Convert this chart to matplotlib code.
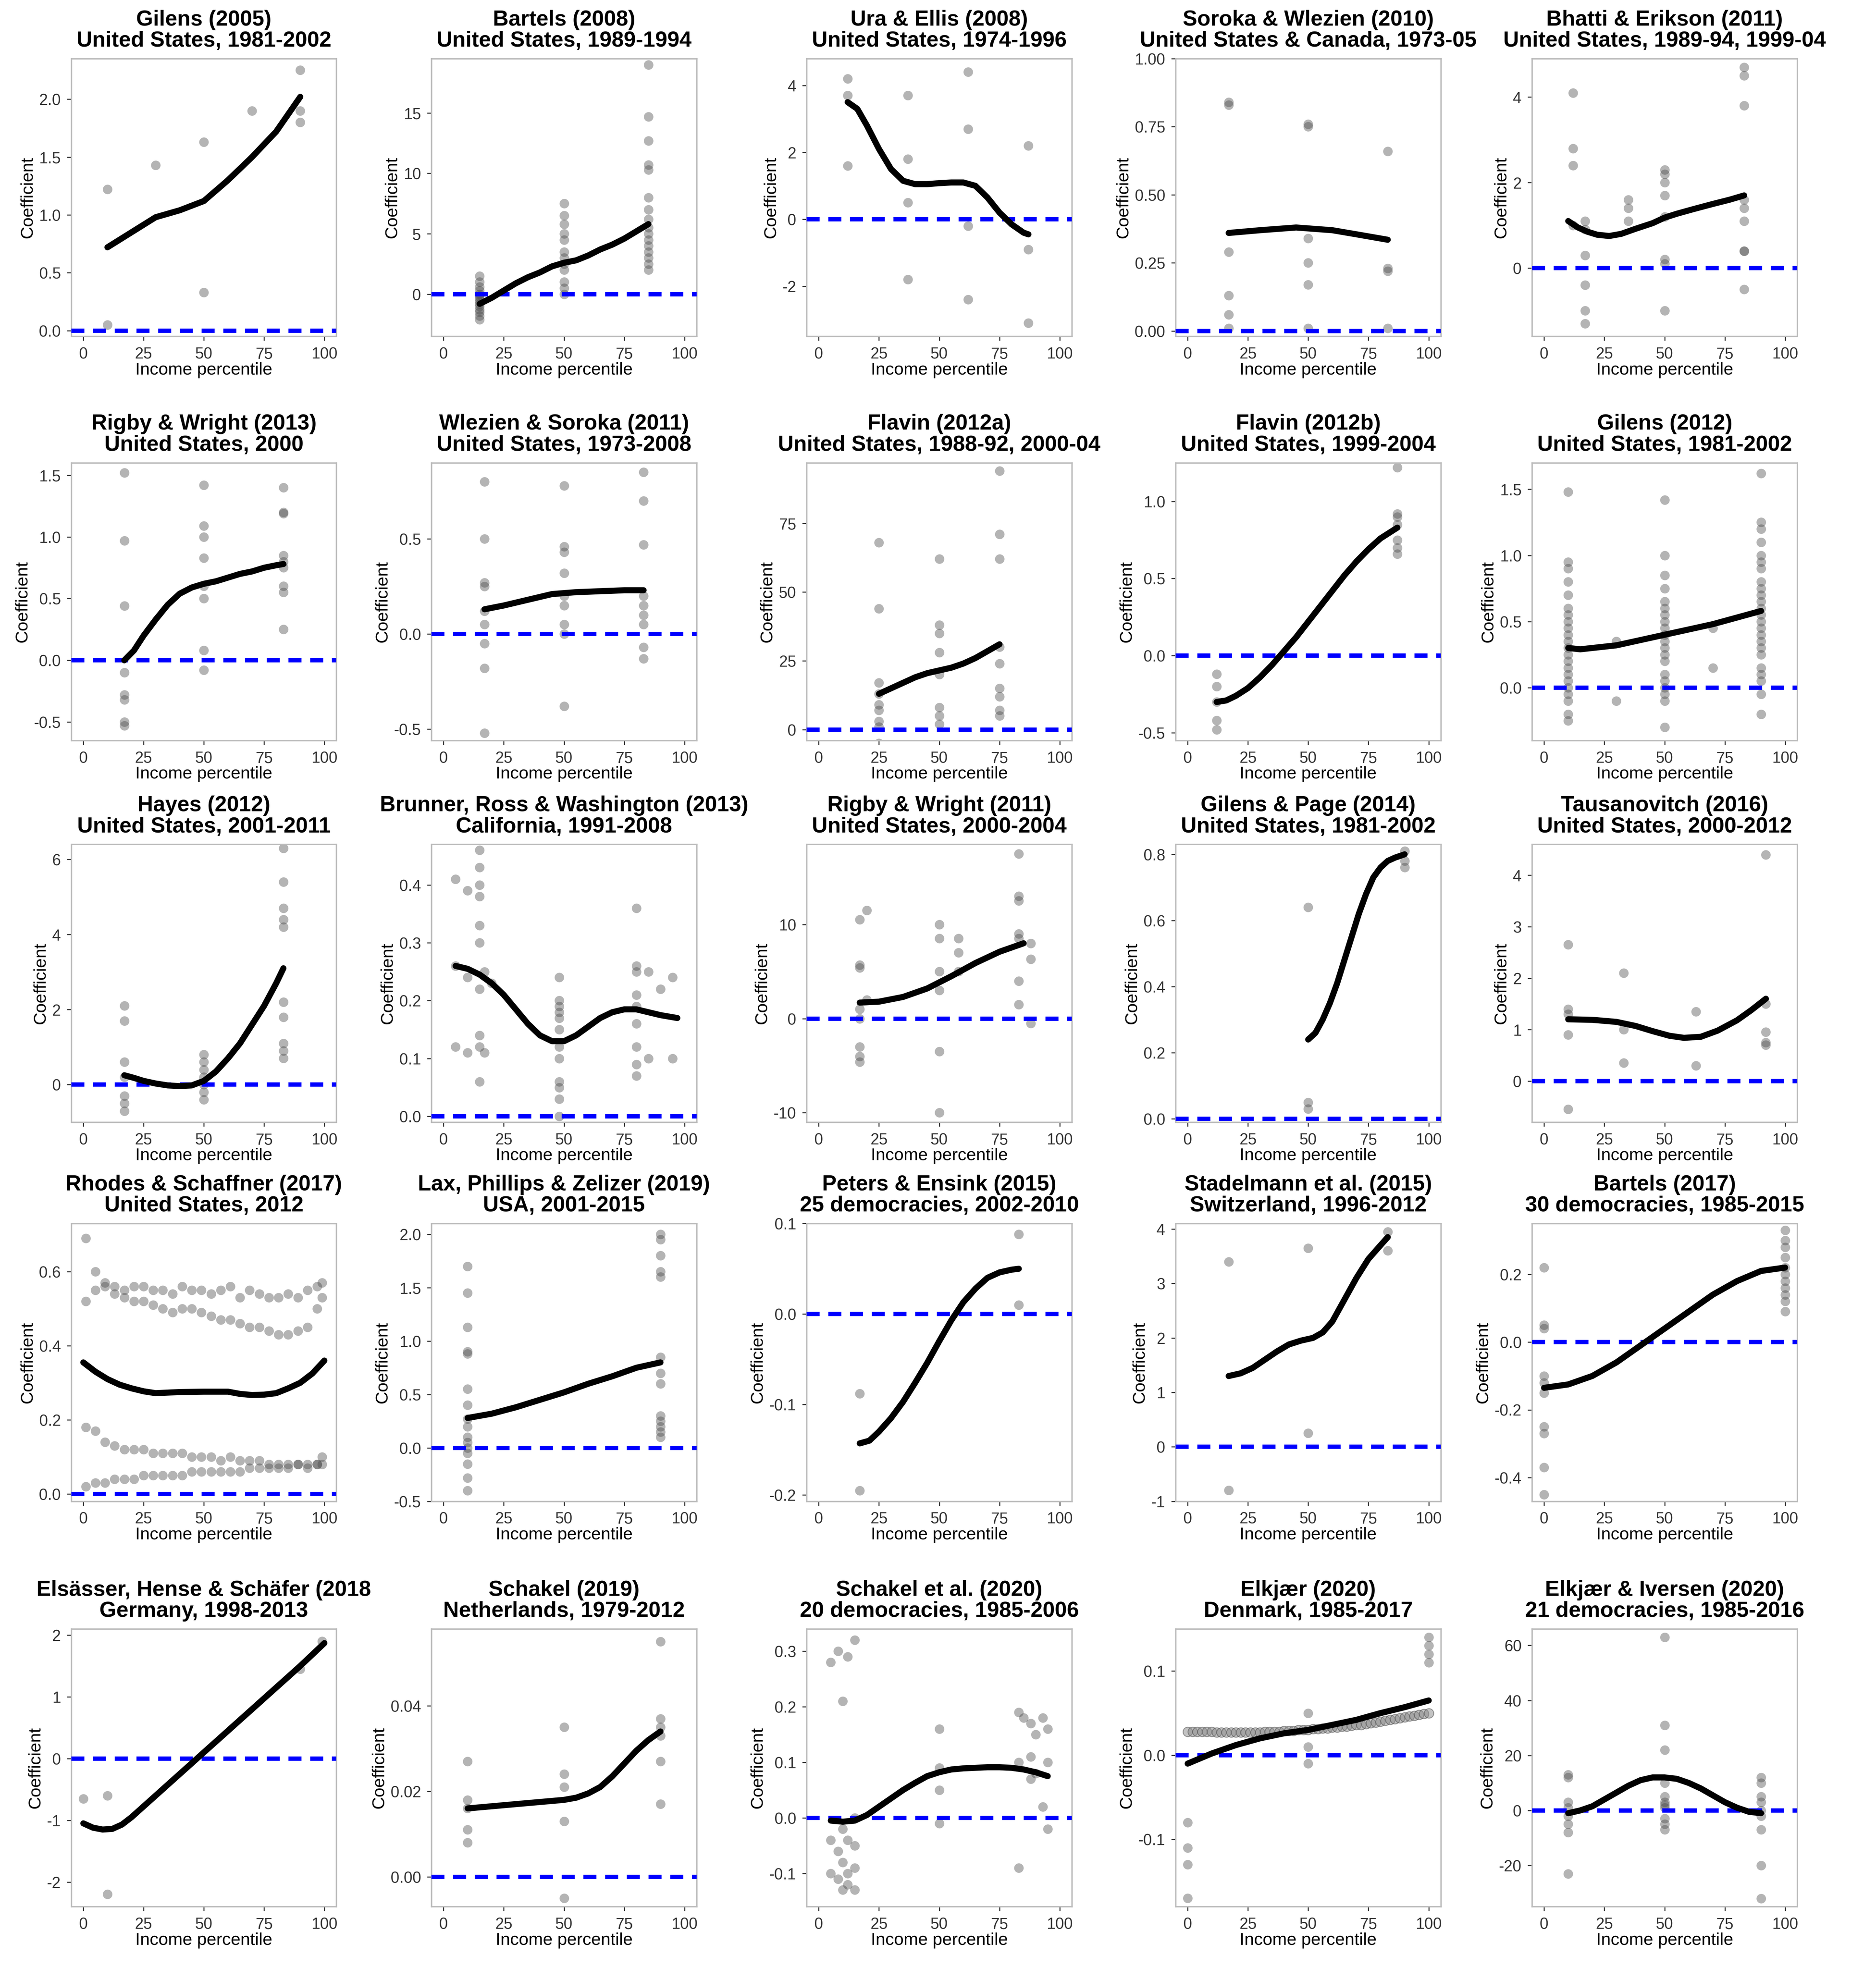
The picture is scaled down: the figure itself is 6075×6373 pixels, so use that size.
import matplotlib
matplotlib.use("Agg")
from matplotlib import pyplot as plt
import numpy as np

plt.rcParams['font.family'] = ['Liberation Sans', 'DejaVu Sans']

# ---- data ----
t1 = "Gilens (2005)\nUnited States, 1981-2002"
x1 = [10, 10, 30, 50, 50, 70, 90, 90, 90]
y1 = [0.05, 1.22, 1.43, 0.33, 1.63, 1.9, 2.25, 1.9, 1.8]
cx1 = [10, 20, 30, 40, 50, 60, 70, 80, 90]
cy1 = [0.72, 0.85, 0.98, 1.04, 1.12, 1.3, 1.5, 1.72, 2.02]

t2 = "Bartels (2008)\nUnited States, 1989-1994"
x2 = [15]*14 + [50]*12 + [85]*16
y2 = [1.5, 1.0, 0.6, 0.3, 0, -0.2, -0.4, -0.6, -0.8, -1.0, -1.3, -1.5, -1.8, -2.1,
      7.5, 6.5, 5.8, 5.0, 4.5, 3.5, 3.0, 2.5, 2.0, 1.0, 0.5, 0.0,
      19, 14.7, 12.7, 10.7, 10.3, 8.0, 7.0, 6.2, 5.5, 5.0, 4.5, 4.0, 3.5, 3.0, 2.5, 2.0]
cx2 = [15, 20, 25, 30, 35, 40, 45, 50, 55, 60, 65, 70, 75, 80, 85]
cy2 = [-0.8, -0.3, 0.3, 0.9, 1.4, 1.8, 2.3, 2.6, 2.8, 3.2, 3.7, 4.1, 4.6, 5.2, 5.8]

t3 = "Ura & Ellis (2008)\nUnited States, 1974-1996"
x3 = [12, 12, 12, 37, 37, 37, 37, 62, 62, 62, 62, 87, 87, 87]
y3 = [4.2, 3.7, 1.6, 3.7, 1.8, 0.5, -1.8, 4.4, 2.7, -0.2, -2.4, 2.2, -0.9, -3.1]
cx3 = [12, 16, 20, 25, 30, 35, 40, 45, 50, 55, 60, 65, 70, 75, 80, 85, 87]
cy3 = [3.5, 3.3, 2.8, 2.1, 1.5, 1.15, 1.05, 1.05, 1.08, 1.1, 1.1, 1.0, 0.65, 0.2, -0.15, -0.4, -0.45]

t4 = "Soroka & Wlezien (2010)\nUnited States & Canada, 1973-05"
x4 = [17]*6 + [50]*6 + [83]*4
y4 = [0.84, 0.83, 0.29, 0.13, 0.06, 0.01, 0.76, 0.75, 0.34, 0.25, 0.17, 0.01, 0.66, 0.23, 0.22, 0.01]
cx4 = [17, 30, 45, 60, 70, 83]
cy4 = [0.36, 0.37, 0.38, 0.37, 0.355, 0.335]

t5 = "Bhatti & Erikson (2011)\nUnited States, 1989-94, 1999-04"
x5 = [12]*4 + [17]*6 + [35]*3 + [50]*8 + [83]*9
y5 = [4.1, 2.8, 2.4, 1.0, 1.1, 0.9, 0.3, -0.4, -1.0, -1.3, 1.6, 1.4, 1.1,
      2.3, 2.2, 2.0, 1.7, 1.2, 0.2, 0.1, -1.0, 4.7, 4.5, 3.8, 1.6, 1.4, 1.1, 0.4, 0.4, -0.5]
cx5 = [10, 14, 18, 22, 27, 32, 38, 45, 50, 55, 62, 70, 77, 83]
cy5 = [1.1, 0.95, 0.85, 0.78, 0.75, 0.8, 0.92, 1.05, 1.18, 1.27, 1.38, 1.5, 1.6, 1.7]

t6 = "Rigby & Wright (2013)\nUnited States, 2000"
x6 = [17]*8 + [50]*8 + [83]*9
y6 = [1.52, 0.97, 0.44, -0.1, -0.28, -0.32, -0.5, -0.53, 1.42, 1.09, 1.0, 0.83, 0.6, 0.5, 0.08, -0.08,
      1.4, 1.2, 1.19, 0.85, 0.8, 0.75, 0.6, 0.55, 0.25]
cx6 = [17, 21, 25, 30, 35, 40, 45, 50, 55, 60, 65, 70, 75, 80, 83]
cy6 = [0.0, 0.08, 0.2, 0.33, 0.45, 0.54, 0.59, 0.62, 0.64, 0.67, 0.7, 0.72, 0.75, 0.77, 0.78]

t7 = "Wlezien & Soroka (2011)\nUnited States, 1973-2008"
x7 = [17]*9 + [50]*9 + [83]*9
y7 = [0.8, 0.5, 0.27, 0.25, 0.12, 0.05, -0.05, -0.18, -0.52, 0.78, 0.46, 0.43, 0.32, 0.2, 0.15, 0.05, 0, -0.38,
      0.85, 0.7, 0.47, 0.2, 0.15, 0.1, 0.05, -0.07, -0.13]
cx7 = [17, 25, 35, 45, 55, 65, 75, 83]
cy7 = [0.13, 0.15, 0.18, 0.21, 0.22, 0.225, 0.23, 0.23]

t8 = "Flavin (2012a)\nUnited States, 1988-92, 2000-04"
x8 = [25]*10 + [50]*8 + [75]*9
y8 = [68, 44, 17, 13, 9, 7, 3, 1, -5, -9, 62, 38, 35, 28, 20, 8, 5, 2, 94, 71, 62, 30, 24, 15, 12, 7, 5]
cx8 = [25, 30, 35, 40, 45, 50, 55, 60, 65, 70, 75]
cy8 = [13, 15, 17, 19, 20.5, 21.5, 22.5, 24, 26, 28.5, 31]

t9 = "Flavin (2012b)\nUnited States, 1999-2004"
x9 = [12]*5 + [87]*7
y9 = [-0.12, -0.2, -0.3, -0.42, -0.48, 1.22, 0.92, 0.9, 0.85, 0.75, 0.7, 0.66]
cx9 = [12, 16, 20, 25, 30, 35, 40, 45, 50, 55, 60, 65, 70, 75, 80, 84, 87]
cy9 = [-0.3, -0.29, -0.26, -0.21, -0.14, -0.06, 0.03, 0.12, 0.22, 0.32, 0.42, 0.52, 0.61, 0.69, 0.76, 0.8, 0.83]

t10 = "Gilens (2012)\nUnited States, 1981-2002"
x10 = [10]*22 + [30, 30] + [50]*20 + [70, 70] + [90]*24
y10 = [1.48, 0.95, 0.9, 0.8, 0.7, 0.6, 0.55, 0.5, 0.45, 0.4, 0.35, 0.3, 0.25, 0.2, 0.15, 0.1, 0.05, 0, -0.05, -0.1, -0.2, -0.25,
       0.35, -0.1,
       1.42, 1.0, 0.85, 0.75, 0.65, 0.6, 0.55, 0.5, 0.45, 0.4, 0.35, 0.3, 0.25, 0.2, 0.1, 0.05, 0, -0.05, -0.1, -0.3,
       0.45, 0.15,
       1.62, 1.25, 1.2, 1.1, 1.0, 0.95, 0.9, 0.8, 0.75, 0.7, 0.65, 0.6, 0.55, 0.5, 0.45, 0.4, 0.35, 0.3, 0.25, 0.15, 0.1, 0.05, -0.05, -0.2]
cx10 = [10, 15, 20, 30, 40, 50, 60, 70, 80, 90]
cy10 = [0.3, 0.29, 0.3, 0.32, 0.36, 0.4, 0.44, 0.48, 0.53, 0.58]

t11 = "Hayes (2012)\nUnited States, 2001-2011"
x11 = [17]*7 + [50]*7 + [83]*10
y11 = [2.1, 1.7, 0.6, 0.2, -0.3, -0.5, -0.7, 0.8, 0.6, 0.4, 0.2, 0, -0.2, -0.4,
       6.3, 5.4, 4.7, 4.4, 4.2, 2.2, 1.8, 1.1, 0.9, 0.7]
cx11 = [17, 21, 25, 30, 35, 40, 45, 50, 55, 60, 65, 70, 75, 80, 83]
cy11 = [0.25, 0.18, 0.1, 0.03, -0.02, -0.04, -0.02, 0.1, 0.35, 0.7, 1.1, 1.6, 2.1, 2.7, 3.1]

t12 = "Brunner, Ross & Washington (2013)\nCalifornia, 1991-2008"
x12 = [5, 5, 5, 10, 10, 10, 15, 15, 15, 15, 15, 15, 15, 15, 15, 15, 17, 17, 20,
       48, 48, 48, 48, 48, 48, 48, 48, 48, 48, 48, 48,
       80, 80, 80, 80, 80, 80, 80, 80, 80, 85, 85, 90, 95, 95]
y12 = [0.41, 0.26, 0.12, 0.39, 0.24, 0.11, 0.46, 0.43, 0.4, 0.38, 0.33, 0.3, 0.22, 0.14, 0.12, 0.06, 0.25, 0.11, 0.23,
       0.24, 0.2, 0.19, 0.18, 0.17, 0.15, 0.12, 0.1, 0.06, 0.05, 0.03, 0.0,
       0.36, 0.26, 0.25, 0.21, 0.19, 0.16, 0.12, 0.09, 0.07, 0.25, 0.1, 0.22, 0.24, 0.1]
cx12 = [5, 10, 15, 20, 25, 30, 35, 40, 45, 50, 55, 60, 65, 70, 75, 80, 85, 90, 97]
cy12 = [0.26, 0.255, 0.245, 0.23, 0.21, 0.185, 0.16, 0.14, 0.13, 0.13, 0.14, 0.155, 0.17, 0.18, 0.185, 0.185, 0.18, 0.175, 0.17]

t13 = "Rigby & Wright (2011)\nUnited States, 2000-2004"
x13 = [17]*8 + [20, 20] + [50]*6 + [58]*3 + [83]*7 + [88]*3
y13 = [10.5, 5.7, 5.4, 1, 0, -3, -4, -4.6, 11.5, 2, 10, 8.5, 5, 3, -3.5, -10, 8.5, 7, 5,
       17.5, 13, 12.5, 9, 8.5, 4, 1.5, 8, 6.3, -0.5]
cx13 = [17, 25, 35, 45, 55, 65, 75, 85]
cy13 = [1.7, 1.8, 2.3, 3.2, 4.5, 5.9, 7.1, 8]

t14 = "Gilens & Page (2014)\nUnited States, 1981-2002"
x14 = [50, 50, 50, 90, 90, 90]
y14 = [0.64, 0.05, 0.03, 0.81, 0.78, 0.76]
cx14 = [50, 53, 56, 59, 62, 65, 68, 71, 74, 77, 80, 83, 86, 90]
cy14 = [0.24, 0.26, 0.3, 0.35, 0.41, 0.48, 0.55, 0.62, 0.68, 0.73, 0.76, 0.78, 0.79, 0.8]

t15 = "Tausanovitch (2016)\nUnited States, 2000-2012"
x15 = [10]*5 + [33]*3 + [63]*2 + [92]*5
y15 = [2.65, 1.4, 1.3, 0.9, -0.55, 2.1, 1.0, 0.35, 1.35, 0.3, 4.4, 1.5, 0.95, 0.75, 0.7]
cx15 = [10, 20, 30, 38, 45, 52, 58, 65, 72, 80, 86, 92]
cy15 = [1.2, 1.19, 1.15, 1.07, 0.97, 0.88, 0.84, 0.86, 0.98, 1.18, 1.38, 1.6]

t16 = "Rhodes & Schaffner (2017)\nUnited States, 2012"
x16b = [1, 5, 9, 13, 17, 21, 25, 29, 33, 37, 41, 45, 49, 53, 57, 61, 65, 69, 73, 77, 81, 85, 89, 93, 97, 99]
top16 = [0.69, 0.6, 0.57, 0.56, 0.55, 0.56, 0.56, 0.55, 0.55, 0.54, 0.56, 0.55, 0.55, 0.54, 0.55, 0.56, 0.53, 0.55, 0.54, 0.53, 0.53, 0.54, 0.53, 0.55, 0.56, 0.57]
mid16 = [0.52, 0.55, 0.56, 0.54, 0.53, 0.52, 0.52, 0.51, 0.5, 0.49, 0.5, 0.5, 0.49, 0.48, 0.47, 0.47, 0.46, 0.45, 0.45, 0.44, 0.43, 0.43, 0.44, 0.45, 0.5, 0.53]
dec16 = [0.18, 0.17, 0.14, 0.13, 0.12, 0.12, 0.12, 0.11, 0.11, 0.11, 0.11, 0.1, 0.1, 0.1, 0.09, 0.1, 0.09, 0.09, 0.09, 0.08, 0.08, 0.08, 0.08, 0.08, 0.08, 0.08]
inc16 = [0.02, 0.03, 0.03, 0.04, 0.04, 0.04, 0.05, 0.05, 0.05, 0.05, 0.05, 0.06, 0.06, 0.06, 0.06, 0.06, 0.06, 0.07, 0.07, 0.07, 0.07, 0.07, 0.08, 0.07, 0.08, 0.1]
x16 = x16b * 4
y16 = top16 + mid16 + dec16 + inc16
cx16 = [0, 5, 10, 15, 20, 25, 30, 40, 50, 60, 65, 70, 75, 80, 85, 90, 95, 100]
cy16 = [0.355, 0.33, 0.31, 0.295, 0.285, 0.277, 0.272, 0.275, 0.276, 0.276, 0.27, 0.267, 0.268, 0.272, 0.285, 0.3, 0.325, 0.36]

t17 = "Lax, Phillips & Zelizer (2019)\nUSA, 2001-2015"
x17 = [10]*16 + [90]*13
y17 = [1.7, 1.45, 1.13, 0.9, 0.88, 0.55, 0.4, 0.27, 0.2, 0.1, 0.05, 0, -0.05, -0.15, -0.28, -0.4,
       2.0, 1.95, 1.8, 1.65, 1.6, 0.85, 0.7, 0.6, 0.3, 0.25, 0.2, 0.15, 0.1]
cx17 = [10, 20, 30, 40, 50, 60, 70, 80, 90]
cy17 = [0.28, 0.32, 0.38, 0.45, 0.52, 0.6, 0.67, 0.75, 0.8]

t18 = "Peters & Ensink (2015)\n25 democracies, 2002-2010"
x18 = [17, 17, 83, 83]
y18 = [-0.088, -0.195, 0.088, 0.01]
cx18 = [17, 21, 25, 30, 35, 40, 45, 50, 55, 60, 65, 70, 75, 80, 83]
cy18 = [-0.143, -0.14, -0.13, -0.115, -0.097, -0.076, -0.054, -0.03, -0.007, 0.013, 0.028, 0.04, 0.046, 0.049, 0.05]

t19 = "Stadelmann et al. (2015)\nSwitzerland, 1996-2012"
x19 = [17, 17, 50, 50, 83, 83]
y19 = [3.4, -0.8, 3.65, 0.25, 3.95, 3.6]
cx19 = [17, 22, 27, 32, 37, 42, 47, 52, 56, 60, 65, 70, 75, 80, 83]
cy19 = [1.3, 1.35, 1.45, 1.6, 1.75, 1.88, 1.95, 2.0, 2.1, 2.3, 2.7, 3.1, 3.45, 3.7, 3.85]

t20 = "Bartels (2017)\n30 democracies, 1985-2015"
x20 = [0]*10 + [100]*11
y20 = [0.22, 0.05, 0.04, -0.1, -0.12, -0.15, -0.25, -0.27, -0.37, -0.45,
       0.33, 0.3, 0.28, 0.25, 0.22, 0.2, 0.18, 0.16, 0.14, 0.12, 0.09]
cx20 = [0, 10, 20, 30, 40, 50, 60, 70, 80, 90, 100]
cy20 = [-0.135, -0.125, -0.1, -0.06, -0.01, 0.04, 0.09, 0.14, 0.18, 0.21, 0.22]

t21 = "Elsässer, Hense & Schäfer (2018\nGermany, 1998-2013"
x21 = [0, 10, 10, 90, 99]
y21 = [-0.65, -0.6, -2.2, 1.45, 1.9]
cx21 = [0, 4, 8, 12, 16, 20, 30, 40, 50, 60, 70, 80, 90, 100]
cy21 = [-1.05, -1.12, -1.15, -1.14, -1.07, -0.95, -0.6, -0.25, 0.1, 0.45, 0.8, 1.15, 1.5, 1.87]

t22 = "Schakel (2019)\nNetherlands, 1979-2012"
x22 = [10]*5 + [50]*5 + [90]*6
y22 = [0.027, 0.018, 0.016, 0.011, 0.008, 0.035, 0.024, 0.021, 0.013, -0.005,
       0.055, 0.037, 0.035, 0.033, 0.027, 0.017]
cx22 = [10, 20, 30, 40, 50, 55, 60, 65, 70, 75, 80, 85, 90]
cy22 = [0.016, 0.0165, 0.017, 0.0175, 0.018, 0.0185, 0.0195, 0.021, 0.0235, 0.0265, 0.0295, 0.032, 0.034]

t23 = "Schakel et al. (2020)\n20 democracies, 1985-2006"
x23 = [5, 5, 5, 8, 8, 8, 10, 10, 10, 10, 12, 12, 12, 12, 15, 15, 15, 15, 15,
       50, 50, 50, 50, 83, 83, 83, 85, 88, 88, 88, 90, 90, 93, 93, 95, 95, 95]
y23 = [0.28, -0.04, -0.1, 0.3, -0.06, -0.11, 0.21, -0.02, -0.08, -0.13, 0.29, -0.04, -0.1, -0.12, 0.32, 0.0, -0.05, -0.09, -0.13,
       0.16, 0.09, 0.05, -0.01, 0.19, 0.1, -0.09, 0.18, 0.17, 0.11, 0.07, 0.15, 0.08, 0.18, 0.02, 0.16, 0.1, -0.02]
cx23 = [5, 10, 15, 20, 25, 30, 35, 40, 45, 50, 55, 60, 65, 70, 75, 80, 85, 90, 95]
cy23 = [-0.005, -0.007, -0.005, 0.005, 0.02, 0.035, 0.05, 0.063, 0.075, 0.082, 0.087, 0.089, 0.09, 0.091, 0.091, 0.09, 0.087, 0.082, 0.075]

t24 = "Elkjær (2020)\nDenmark, 1985-2017"
x24 = [0, 0, 0, 0, 50, 50, 50, 100, 100, 100, 100]
y24 = [-0.08, -0.11, -0.13, -0.17, 0.05, 0.01, -0.01, 0.14, 0.13, 0.12, 0.11]
xb24 = [0, 2, 4, 6, 8, 10, 12, 14, 16, 18, 20, 22, 24, 26, 28, 30, 32, 34, 36, 38, 40, 42, 44, 46, 48, 50,
        52, 54, 56, 58, 60, 62, 64, 66, 68, 70, 72, 74, 76, 78, 80, 82, 84, 86, 88, 90, 92, 94, 96, 98, 100]
yb24 = [0.028, 0.028, 0.028, 0.028, 0.028, 0.028, 0.027, 0.027, 0.027, 0.027, 0.027, 0.027, 0.027, 0.027, 0.027, 0.027,
        0.028, 0.028, 0.028, 0.028, 0.029, 0.029, 0.029, 0.03, 0.03, 0.03, 0.031, 0.031, 0.032, 0.032, 0.033, 0.033,
        0.034, 0.034, 0.035, 0.036, 0.036, 0.037, 0.038, 0.039, 0.04, 0.041, 0.042, 0.043, 0.044, 0.045, 0.046, 0.047, 0.048, 0.049, 0.05]
cx24 = [0, 10, 20, 30, 40, 50, 60, 70, 80, 90, 100]
cy24 = [-0.01, 0.002, 0.012, 0.02, 0.026, 0.03, 0.036, 0.042, 0.05, 0.057, 0.065]

t25 = "Elkjær & Iversen (2020)\n21 democracies, 1985-2016"
x25 = [10]*8 + [50]*11 + [90]*9
y25 = [13, 12, 3, 1, -2, -5, -8, -23, 63, 31, 22, 10, 5, 3, 2, 1, -3, -5, -7, 12, 10, 5, 3, 0, -2, -7, -20, -32]
cx25 = [10, 15, 20, 25, 30, 35, 40, 45, 50, 55, 60, 65, 70, 75, 80, 85, 90]
cy25 = [-1, 0, 1.5, 4, 6.5, 9, 11, 12, 12, 11.5, 10, 8, 5.5, 3, 1, -0.5, -1]

panels = [
    (t1, x1, y1, cx1, cy1, (-0.05, 2.35), [0, 0.5, 1.0, 1.5, 2.0], "%.1f"),
    (t2, x2, y2, cx2, cy2, (-3.5, 19.5), [0, 5, 10, 15], "%d"),
    (t3, x3, y3, cx3, cy3, (-3.5, 4.8), [-2, 0, 2, 4], "%d"),
    (t4, x4, y4, cx4, cy4, (-0.02, 1.0), [0, 0.25, 0.5, 0.75, 1.0], "%.2f"),
    (t5, x5, y5, cx5, cy5, (-1.6, 4.9), [0, 2, 4], "%d"),
    (t6, x6, y6, cx6, cy6, (-0.65, 1.6), [-0.5, 0, 0.5, 1.0, 1.5], "%.1f"),
    (t7, x7, y7, cx7, cy7, (-0.56, 0.9), [-0.5, 0, 0.5], "%.1f"),
    (t8, x8, y8, cx8, cy8, (-4, 97), [0, 25, 50, 75], "%d"),
    (t9, x9, y9, cx9, cy9, (-0.55, 1.25), [-0.5, 0, 0.5, 1.0], "%.1f"),
    (t10, x10, y10, cx10, cy10, (-0.4, 1.7), [0, 0.5, 1.0, 1.5], "%.1f"),
    (t11, x11, y11, cx11, cy11, (-1.0, 6.4), [0, 2, 4, 6], "%d"),
    (t12, x12, y12, cx12, cy12, (-0.01, 0.47), [0, 0.1, 0.2, 0.3, 0.4], "%.1f"),
    (t13, x13, y13, cx13, cy13, (-11, 18.5), [-10, 0, 10], "%d"),
    (t14, x14, y14, cx14, cy14, (-0.01, 0.83), [0, 0.2, 0.4, 0.6, 0.8], "%.1f"),
    (t15, x15, y15, cx15, cy15, (-0.8, 4.6), [0, 1, 2, 3, 4], "%d"),
    (t16, x16, y16, cx16, cy16, (-0.02, 0.73), [0, 0.2, 0.4, 0.6], "%.1f"),
    (t17, x17, y17, cx17, cy17, (-0.5, 2.1), [-0.5, 0, 0.5, 1.0, 1.5, 2.0], "%.1f"),
    (t18, x18, y18, cx18, cy18, (-0.207, 0.1), [-0.2, -0.1, 0, 0.1], "%.1f"),
    (t19, x19, y19, cx19, cy19, (-1.0, 4.1), [-1, 0, 1, 2, 3, 4], "%d"),
    (t20, x20, y20, cx20, cy20, (-0.47, 0.35), [-0.4, -0.2, 0, 0.2], "%.1f"),
    (t21, x21, y21, cx21, cy21, (-2.4, 2.1), [-2, -1, 0, 1, 2], "%d"),
    (t22, x22, y22, cx22, cy22, (-0.007, 0.058), [0, 0.02, 0.04], "%.2f"),
    (t23, x23, y23, cx23, cy23, (-0.16, 0.34), [-0.1, 0, 0.1, 0.2, 0.3], "%.1f"),
    (t24, x24, y24, cx24, cy24, (-0.18, 0.15), [-0.1, 0, 0.1], "%.1f"),
    (t25, x25, y25, cx25, cy25, (-35, 66), [-20, 0, 20, 40, 60], "%d"),
]

W, H = 1500.0, 1573.0
lefts = [57, 345, 645, 940, 1225]
tops = [47, 370, 675, 978, 1302]
aw, ah = 212, 222

fig = plt.figure(figsize=(15.0, 15.737), dpi=405)
for i, (title, xs, ys, cx, cy, ylim, yt, fmt) in enumerate(panels):
    r, c = divmod(i, 5)
    ax = fig.add_axes([lefts[c] / W, 1 - (tops[r] + ah) / H, aw / W, ah / H])
    ax.scatter(xs, ys, s=30, color="#444444", alpha=0.4, linewidths=0, zorder=2)
    if i == 23:
        ax.scatter(xb24, yb24, s=30, facecolor="#888888", edgecolor="#444444", alpha=0.5, linewidths=0.5, zorder=2)
    ax.axhline(0, color="blue", lw=2.5, ls=(0, (3, 2)), zorder=3)
    ax.plot(cx, cy, color="black", lw=3.5, solid_capstyle="round", zorder=4)
    ax.set_xlim(-5, 105)
    ax.set_ylim(*ylim)
    ax.set_xticks([0, 25, 50, 75, 100])
    ax.set_yticks(yt)
    ax.set_yticklabels([fmt % v for v in yt])
    ax.tick_params(labelsize=9, colors="#333333", length=2.5, width=0.6)
    for sp in ax.spines.values():
        sp.set_color("#bbbbbb")
        sp.set_linewidth(0.8)
    ax.set_title(title, fontsize=12.5, fontweight="bold", pad=7, linespacing=1.05)
    ax.set_xlabel("Income percentile", fontsize=10, labelpad=0)
    ax.set_ylabel("Coefficient", fontsize=10, labelpad=2)

fig.savefig("out.png", dpi=405, facecolor="white")
